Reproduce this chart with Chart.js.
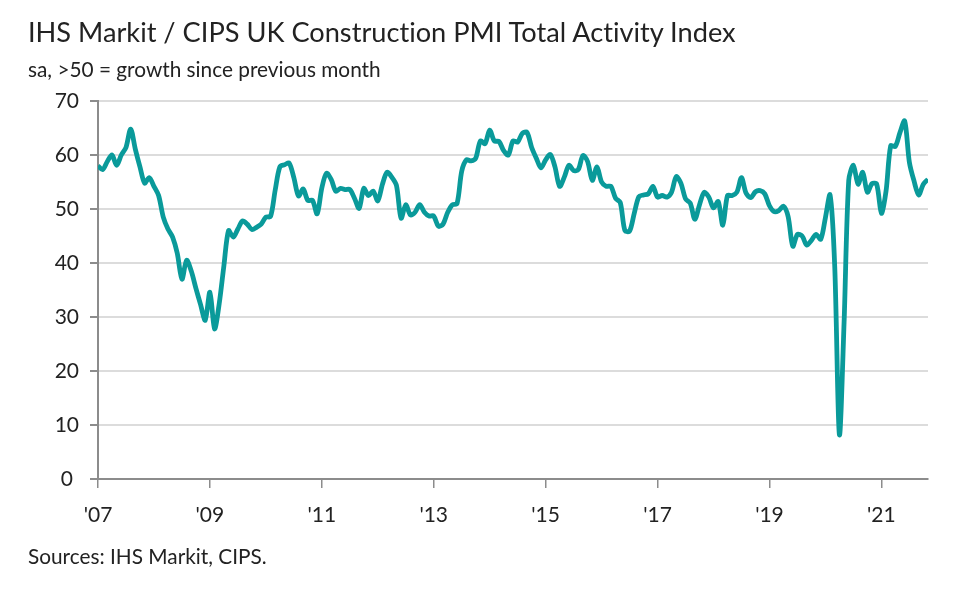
<!DOCTYPE html>
<html>
<head>
<meta charset="utf-8">
<script src="https://cdn.jsdelivr.net/npm/chart.js@4"></script>
<style>
  html, body { margin: 0; padding: 0; background: #fff; }
  #wrap { position: relative; width: 960px; height: 603px; overflow: hidden; }
  #chart { position: absolute; left: 0; top: 0; }
  .txt { position: absolute; left: 28px; font-family: Lato, "Open Sans", sans-serif; color: #222; white-space: nowrap; font-variant-ligatures: none; }
  #title { top: 15px; font-size: 27.2px; }
  #subtitle { top: 56px; font-size: 20.8px; }
  #source { top: 543px; font-size: 20.8px; }
</style>
</head>
<body>
<div id="wrap">
  <canvas id="chart" width="960" height="603"></canvas>
  <div class="txt" id="title">IHS Markit / CIPS UK Construction PMI Total Activity Index</div>
  <div class="txt" id="subtitle">sa, &gt;50 = growth since previous month</div>
  <div class="txt" id="source">Sources: IHS Markit, CIPS.</div>
</div>
<script>
// valori mensili, gen 2007 - nov 2021
const pmi2007 = [58.0, 57.3, 58.8, 60.0, 58.1, 60.0, 61.4, 64.8, 61.1, 57.8, 54.8, 55.8];
const pmi2008 = [54.2, 52.5, 48.5, 46.3, 44.8, 41.8, 37.0, 40.5, 38.5, 35.3, 32.3, 29.4];
const pmi2009 = [34.6, 27.8, 32.5, 39.5, 46.0, 44.8, 46.3, 47.8, 47.2, 46.2, 46.6, 47.2];
const pmi2010 = [48.5, 48.6, 53.5, 57.8, 58.2, 58.5, 55.8, 52.4, 53.7, 51.6, 51.6, 49.1];
const pmi2011 = [53.9, 56.6, 55.5, 53.3, 53.8, 53.6, 53.6, 52.0, 50.1, 53.8, 52.5, 53.3];
const pmi2012 = [51.5, 54.6, 56.8, 55.9, 54.4, 48.3, 50.8, 48.9, 49.4, 50.8, 49.4, 48.7];
const pmi2013 = [48.7, 46.8, 47.2, 49.4, 50.8, 51.0, 57.0, 59.1, 58.9, 59.4, 62.6, 62.1];
const pmi2014 = [64.6, 62.6, 62.5, 60.8, 60.0, 62.6, 62.4, 64.0, 64.2, 61.4, 59.4, 57.6];
const pmi2015 = [59.1, 60.1, 57.8, 54.2, 55.9, 58.1, 57.1, 57.3, 59.9, 58.8, 55.3, 57.8];
const pmi2016 = [55.0, 54.2, 54.2, 52.0, 51.2, 46.0, 45.9, 49.2, 52.3, 52.6, 52.8, 54.2];
const pmi2017 = [52.2, 52.5, 52.2, 53.1, 56.0, 54.8, 51.9, 51.1, 48.1, 50.8, 53.1, 52.2];
const pmi2018 = [50.2, 51.4, 47.0, 52.5, 52.5, 53.1, 55.8, 52.9, 52.1, 53.2, 53.4, 52.8];
const pmi2019 = [50.6, 49.5, 49.7, 50.5, 48.6, 43.1, 45.3, 45.0, 43.3, 44.2, 45.3, 44.4];
const pmi2020 = [48.4, 52.6, 39.3, 8.2, 28.9, 55.3, 58.1, 54.6, 56.8, 53.1, 54.7, 54.6];
const pmi2021 = [49.2, 53.3, 61.7, 61.6, 64.2, 66.3, 58.7, 55.2, 52.6, 54.6, 55.5];

const pmiValues = [].concat(pmi2007, pmi2008, pmi2009, pmi2010, pmi2011, pmi2012, pmi2013,
  pmi2014, pmi2015, pmi2016, pmi2017, pmi2018, pmi2019, pmi2020, pmi2021);

// etichette dell'asse x, una ogni due anni (ogni 24 mesi)
const xTickLabels = ["'07", "'09", "'11", "'13", "'15", "'17", "'19", "'21"];
const yTicks = [0, 10, 20, 30, 40, 50, 60, 70];

const points = pmiValues.map((v, i) => ({ x: i, y: v }));
const tickFont = { family: 'Lato, "Open Sans", sans-serif', size: 21 };

new Chart(document.getElementById('chart'), {
  type: 'line',
  data: {
    datasets: [{
      data: points,
      borderColor: '#0a9a9a',
      borderWidth: 4.8,
      pointRadius: 0,
      tension: 0.3,
      fill: false
    }]
  },
  options: {
    responsive: false,
    animation: false,
    layout: { padding: { left: 38, right: 32, top: 101, bottom: 74 } },
    plugins: { legend: { display: false }, tooltip: { enabled: false } },
    scales: {
      x: {
        type: 'linear',
        min: 0,
        max: pmiValues.length - 1,
        afterBuildTicks: (scale) => {
          scale.ticks = xTickLabels.map((_, k) => ({ value: k * 24 }));
        },
        afterFit: (scale) => { scale.height = 50; },
        ticks: {
          callback: (value) => xTickLabels[value / 24],
          color: '#222',
          font: tickFont,
          padding: 15,
          maxRotation: 0
        },
        grid: { drawOnChartArea: false, drawTicks: true, tickLength: 9, color: '#8c8c8c', lineWidth: 1.5 },
        border: { display: true, color: '#8c8c8c', width: 2 }
      },
      y: {
        min: 0,
        max: 70,
        afterBuildTicks: (scale) => {
          scale.ticks = yTicks.map(v => ({ value: v }));
        },
        afterFit: (scale) => { scale.width = 60; },
        ticks: { color: '#222', font: tickFont, padding: 11, crossAlign: 'center' },
        grid: { color: '#dcdcdc', lineWidth: 2, tickLength: 8, tickColor: '#8c8c8c' },
        border: { display: true, color: '#8c8c8c', width: 2 }
      }
    }
  }
});
</script>
</body>
</html>
